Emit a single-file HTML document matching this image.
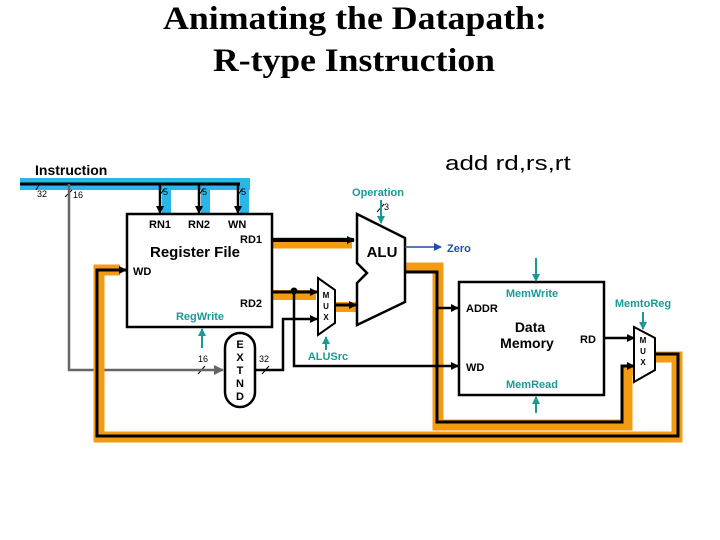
<!DOCTYPE html>
<html><head><meta charset="utf-8"><style>
html,body{margin:0;padding:0;background:#fff;}
svg{display:block;}
.t{font-family:"Liberation Serif",serif;font-size:33px;font-weight:bold;}
.s{font-family:"Liberation Sans",sans-serif;}
</style></head><body>
<svg width="720" height="540" viewBox="0 0 720 540" xmlns="http://www.w3.org/2000/svg" class="s">
<defs>
<marker id="ab" markerWidth="8" markerHeight="8" refX="7" refY="4" orient="auto" markerUnits="userSpaceOnUse"><path d="M0,0 L8,4 L0,8 z" fill="#000"/></marker>
<marker id="ag" markerWidth="10" markerHeight="10" refX="9" refY="5" orient="auto" markerUnits="userSpaceOnUse"><path d="M0,0 L10,5 L0,10 z" fill="#666"/></marker>
<marker id="at" markerWidth="8" markerHeight="8" refX="7" refY="4" orient="auto" markerUnits="userSpaceOnUse"><path d="M0,0 L8,4 L0,8 z" fill="#1a9a96"/></marker>
<marker id="abl" markerWidth="8" markerHeight="8" refX="7" refY="4" orient="auto" markerUnits="userSpaceOnUse"><path d="M0,0 L8,4 L0,8 z" fill="#1f4fa8"/></marker>
</defs>
<text x="355" y="29" text-anchor="middle" class="t" textLength="384" lengthAdjust="spacingAndGlyphs">Animating the Datapath:</text>
<text x="354" y="71" text-anchor="middle" class="t" textLength="282" lengthAdjust="spacingAndGlyphs">R-type Instruction</text>
<text x="0" y="0" class="s" font-size="20" transform="translate(445,170) scale(1.3,1)">add rd,rs,rt</text>

<!-- cyan bus -->
<rect x="20" y="178" width="230" height="12" fill="#2bb6ea"/>
<rect x="162" y="178" width="9" height="36" fill="#2bb6ea"/>
<rect x="201" y="178" width="9" height="36" fill="#2bb6ea"/>
<rect x="240" y="178" width="9" height="36" fill="#2bb6ea"/>
<text x="35" y="175" font-size="14" font-weight="bold">Instruction</text>
<line x1="20" y1="184" x2="240" y2="184" stroke="#000" stroke-width="3"/>
<line x1="160" y1="184" x2="160" y2="213" stroke="#000" stroke-width="2.5" marker-end="url(#ab)"/>
<line x1="199" y1="184" x2="199" y2="213" stroke="#000" stroke-width="2.5" marker-end="url(#ab)"/>
<line x1="238" y1="184" x2="238" y2="213" stroke="#000" stroke-width="2.5" marker-end="url(#ab)"/>
<g font-size="9" fill="#000">
<text x="37" y="197">32</text><text x="73" y="198">16</text>
<text x="163" y="195">5</text><text x="202" y="195">5</text><text x="241" y="195">5</text>
<text x="198" y="362">16</text><text x="259" y="362">32</text><text x="384" y="210">3</text>
</g>
<g stroke="#000" stroke-width="1">
<line x1="36" y1="190" x2="40" y2="183"/><line x1="65" y1="197" x2="72" y2="190"/>
<line x1="160" y1="195" x2="164" y2="189"/><line x1="199" y1="195" x2="203" y2="189"/><line x1="238" y1="195" x2="242" y2="189"/>
<line x1="198" y1="374" x2="205" y2="366"/><line x1="262" y1="374" x2="269" y2="366"/>
<line x1="377" y1="212" x2="384" y2="204"/>
</g>

<polyline points="69,184 69,370 223,370" fill="none" stroke="#666" stroke-width="2.5" marker-end="url(#ag)"/>

<!-- orange bands -->
<polyline points="272,243 352,243" fill="none" stroke="#f39c12" stroke-width="11"/>
<polyline points="272,295 316,295" fill="none" stroke="#f39c12" stroke-width="10"/>
<polyline points="335,307 356,307" fill="none" stroke="#f39c12" stroke-width="10"/>
<polyline points="405,268 438,268 438,425 627,425 627,370 634,370" fill="none" stroke="#f39c12" stroke-width="11"/>
<polyline points="655,357 677,357 677,437 99,437 99,270 120,270" fill="none" stroke="#f39c12" stroke-width="11"/>

<!-- black data lines -->
<line x1="272" y1="240" x2="354" y2="240" stroke="#000" stroke-width="4" marker-end="url(#ab)"/>
<line x1="272" y1="292" x2="317" y2="292" stroke="#000" stroke-width="3" marker-end="url(#ab)"/>
<line x1="335" y1="305" x2="356" y2="305" stroke="#000" stroke-width="3" marker-end="url(#ab)"/>
<circle cx="294" cy="291" r="3.5" fill="#000"/>
<polyline points="294,291 294,366 458,366" fill="none" stroke="#000" stroke-width="2.5" marker-end="url(#ab)"/>
<polyline points="255,370 283,370 283,319 317,319" fill="none" stroke="#000" stroke-width="2.5" marker-end="url(#ab)"/>
<polyline points="405,272 437,272 437,422 622,422 622,366 634,366" fill="none" stroke="#000" stroke-width="3" marker-end="url(#ab)"/>
<line x1="437" y1="308" x2="458" y2="308" stroke="#000" stroke-width="2.5" marker-end="url(#ab)"/>
<line x1="604" y1="338" x2="634" y2="338" stroke="#000" stroke-width="2.5" marker-end="url(#ab)"/>
<polyline points="655,354 678,354 678,436 97,436 97,270 126,270" fill="none" stroke="#000" stroke-width="3" marker-end="url(#ab)"/>

<!-- register file -->
<rect x="127" y="214" width="145" height="113" fill="#fff" stroke="#000" stroke-width="2.5"/>
<g font-size="11" font-weight="bold">
<text x="149" y="228">RN1</text><text x="188" y="228">RN2</text><text x="228" y="228">WN</text>
<text x="240" y="243">RD1</text><text x="133" y="275">WD</text><text x="240" y="307">RD2</text>
</g>
<text x="195" y="257" font-size="15" font-weight="bold" text-anchor="middle">Register File</text>
<text x="200" y="320" font-size="11" font-weight="bold" fill="#1a9a96" text-anchor="middle">RegWrite</text>
<line x1="202" y1="348" x2="202" y2="329" stroke="#1a9a96" stroke-width="2" marker-end="url(#at)"/>

<!-- EXTND -->
<rect x="225" y="333" width="30" height="74" rx="15" fill="#fff" stroke="#000" stroke-width="2.5"/>
<g font-size="11" font-weight="bold" text-anchor="middle">
<text x="240" y="348">E</text><text x="240" y="361">X</text><text x="240" y="374">T</text><text x="240" y="387">N</text><text x="240" y="400">D</text>
</g>

<!-- mux 1 -->
<polygon points="318,278 335,290 335,323 318,335" fill="#fff" stroke="#000" stroke-width="2"/>
<g font-size="8" font-weight="bold" text-anchor="middle"><text x="326" y="298">M</text><text x="326" y="309">U</text><text x="326" y="320">X</text></g>
<text x="328" y="360" font-size="11" font-weight="bold" fill="#1a9a96" text-anchor="middle">ALUSrc</text>
<line x1="326" y1="350" x2="326" y2="337" stroke="#1a9a96" stroke-width="2" marker-end="url(#at)"/>

<!-- ALU -->
<polygon points="357,214 405,238 405,302 357,325 357,283 367,273 357,263" fill="#fff" stroke="#000" stroke-width="2.5"/>
<text x="382" y="257" font-size="15" font-weight="bold" text-anchor="middle">ALU</text>
<text x="378" y="196" font-size="11" font-weight="bold" fill="#1a9a96" text-anchor="middle">Operation</text>
<line x1="381" y1="200" x2="381" y2="223" stroke="#1a9a96" stroke-width="2" marker-end="url(#at)"/>
<line x1="405" y1="247" x2="441" y2="247" stroke="#1f4fa8" stroke-width="1.5" marker-end="url(#abl)"/>
<text x="447" y="252" font-size="11" font-weight="bold" fill="#1f4fa8">Zero</text>

<!-- data memory -->
<rect x="459" y="282" width="145" height="113" fill="#fff" stroke="#000" stroke-width="2.5"/>
<g font-size="11" font-weight="bold">
<text x="466" y="312">ADDR</text><text x="466" y="371">WD</text><text x="580" y="343">RD</text>
</g>
<text x="530" y="332" font-size="14" font-weight="bold" text-anchor="middle">Data</text>
<text x="527" y="348" font-size="14" font-weight="bold" text-anchor="middle">Memory</text>
<text x="532" y="297" font-size="11" font-weight="bold" fill="#1a9a96" text-anchor="middle">MemWrite</text>
<text x="532" y="388" font-size="11" font-weight="bold" fill="#1a9a96" text-anchor="middle">MemRead</text>
<line x1="536" y1="258" x2="536" y2="281" stroke="#1a9a96" stroke-width="2" marker-end="url(#at)"/>
<line x1="536" y1="413" x2="536" y2="397" stroke="#1a9a96" stroke-width="2" marker-end="url(#at)"/>

<!-- mux 2 -->
<polygon points="634,327 655,338 655,370 634,382" fill="#fff" stroke="#000" stroke-width="2"/>
<g font-size="8" font-weight="bold" text-anchor="middle"><text x="643" y="343">M</text><text x="643" y="354">U</text><text x="643" y="365">X</text></g>
<text x="643" y="307" font-size="11" font-weight="bold" fill="#1a9a96" text-anchor="middle">MemtoReg</text>
<line x1="643" y1="312" x2="643" y2="329" stroke="#1a9a96" stroke-width="2" marker-end="url(#at)"/>
</svg>
</body></html>
